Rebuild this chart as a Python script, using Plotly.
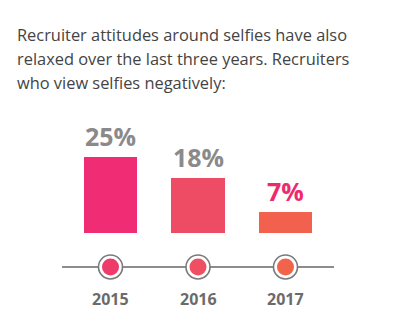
import plotly.graph_objects as go

# Share of recruiters who view selfies negatively, by survey year
years = [2015, 2016, 2017]
year_labels = ["2015", "2016", "2017"]
negative_pct = [25, 18, 7]
value_labels = ["25%", "18%", "7%"]

bar_colors = ["#EF2C74", "#EE4C64", "#F2614E"]
dot_colors = ["#EF3A6C", "#EF4F62", "#F2634B"]
label_colors = ["#8A8A8A", "#8A8A8A", "#EE2A6E"]

W, H = 403, 333
TIMELINE_Y = -11.2  # timeline sits below the bar baseline

fig = go.Figure()

fig.add_trace(go.Bar(
    x=years, y=negative_pct, width=0.606,
    marker=dict(color=bar_colors, line=dict(width=0)),
    hoverinfo="skip", showlegend=False,
))

# timeline axis line
fig.add_shape(type="line", xref="paper", yref="y",
              x0=62 / W, x1=334 / W, y0=TIMELINE_Y, y1=TIMELINE_Y,
              line=dict(color="#8C8C8C", width=2), layer="below")

# outer ring and inner dot for each year
fig.add_trace(go.Scatter(
    x=years, y=[TIMELINE_Y] * len(years), mode="markers",
    marker=dict(size=24, color="white", line=dict(color="#7A7A7A", width=1.6)),
    hoverinfo="skip", showlegend=False,
))
fig.add_trace(go.Scatter(
    x=years, y=[TIMELINE_Y] * len(years), mode="markers",
    marker=dict(size=17, color=dot_colors, line=dict(width=0)),
    hoverinfo="skip", showlegend=False,
))

# value labels above bars
for x, v, txt, c in zip(years, negative_pct, value_labels, label_colors):
    fig.add_annotation(x=x, y=v, text=f"<b>{txt}</b>", showarrow=False,
                       yanchor="bottom", yshift=2,
                       font=dict(family="Open Sans", size=25, color=c))

# year labels under the timeline
for x, txt in zip(years, year_labels):
    fig.add_annotation(x=x, y=TIMELINE_Y, text=f"<b>{txt}</b>", showarrow=False,
                       yanchor="top", yshift=-19,
                       font=dict(family="Open Sans", size=16, color="#6B6B6B"))

# heading text
heading = [
    "Recruiter attitudes around selfies have also",
    "relaxed over the last three years. Recruiters",
    "who view selfies negatively:",
]
for i, line in enumerate(heading):
    fig.add_annotation(xref="paper", yref="paper", x=15 / W, y=1 - (35 + 23.5 * i) / H,
                       text=line, showarrow=False, xanchor="left", yanchor="middle",
                       font=dict(family="Open Sans", size=16.4, color="#444444"))

px_per_unit = 87.5
x0 = 2015 - 110.5 / px_per_unit
x1 = 2015 + (W - 110.5) / px_per_unit
px_per_pct = 3.03
baseline = 233
fig.update_layout(
    width=W, height=H,
    margin=dict(l=0, r=0, t=0, b=0),
    paper_bgcolor="white", plot_bgcolor="white",
    xaxis=dict(range=[x0, x1], visible=False, fixedrange=True),
    yaxis=dict(range=[-(H - baseline) / px_per_pct, baseline / px_per_pct],
               visible=False, fixedrange=True),
    bargap=0,
)

fig.write_html("out.html")
